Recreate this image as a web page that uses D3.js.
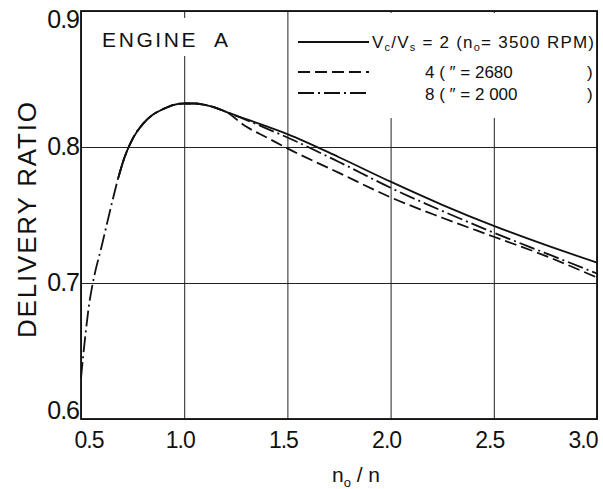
<!DOCTYPE html>
<html>
<head>
  <meta charset="UTF-8">
  <title>Engine A delivery ratio</title>
  <style>
  body { margin:0; background:#fff; }
  svg text { font-family:"Liberation Sans", Arial, sans-serif; fill:#111; }
  </style>
</head>
<body>
  <div id="chart"></div>
  <script src="https://d3js.org/d3.v7.min.js" charset="utf-8"></script>
  <script type="text/javascript">
    // values: x = n_o/n, y = delivery ratio
    var risingX = [0.5, 0.52, 0.54, 0.56, 0.6, 0.65, 0.68, 0.71, 0.75, 0.8, 0.85, 0.9, 0.95, 1.0, 1.05, 1.1, 1.15, 1.2];
    var risingY = [0.630, 0.660, 0.685, 0.702, 0.727, 0.759, 0.777, 0.792, 0.806, 0.817, 0.824, 0.828, 0.831, 0.832, 0.832, 0.831, 0.829, 0.826];

    var tailX   = [1.3, 1.4, 1.5, 1.75, 2.0, 2.25, 2.5, 2.75, 3.0];
    var solidY  = [0.8205, 0.8152, 0.8095, 0.7925, 0.7745, 0.7575, 0.742, 0.728, 0.715];
    var dashY   = [0.815, 0.807, 0.799, 0.781, 0.763, 0.748, 0.734, 0.720, 0.704];
    var dotY    = [0.820, 0.8135, 0.807, 0.789, 0.770, 0.753, 0.737, 0.722, 0.707];

    var xTicks = [0.5, 1.0, 1.5, 2.0, 2.5, 3.0];
    var yTicks = [0.6, 0.7, 0.8, 0.9];

    var W = 603, H = 489;
    var margin = {top: 11, right: 6, bottom: 70, left: 81};

    var svg = d3.select("#chart").append("svg")
      .attr("width", W)
      .attr("height", H);

    var x = d3.scaleLinear().domain([0.5, 3.0]).range([margin.left, W - margin.right]);
    var y = d3.scaleLinear().domain([0.6, 0.9]).range([H - margin.bottom, margin.top]);

    function pts(xs, ys) {
      return xs.map(function(v, i) { return [v, ys[i]]; });
    }

    // solid and dashed curves only start near the top of the rise; the dash-dot one runs from 0.5
    var common = pts(risingX, risingY);
    var solidData = common.filter(function(d) { return d[0] >= 0.68; }).concat(pts(tailX, solidY));
    var dashData  = common.filter(function(d) { return d[0] >= 0.68; }).concat(pts(tailX, dashY));
    var dotData   = common.concat(pts(tailX, dotY));

    var line = d3.line()
      .x(function(d) { return x(d[0]); })
      .y(function(d) { return y(d[1]); })
      .curve(d3.curveMonotoneX);

    // grid
    svg.append("g")
      .attr("transform", "translate(0," + (H - margin.bottom) + ")")
      .call(d3.axisBottom(x).tickValues(xTicks).tickSize(-(H - margin.top - margin.bottom)).tickFormat(""))
      .call(function(g) {
        g.select(".domain").remove();
        g.selectAll("line").attr("stroke", "#222").attr("stroke-width", 1);
      });

    svg.append("g")
      .attr("transform", "translate(" + margin.left + ",0)")
      .call(d3.axisLeft(y).tickValues(yTicks).tickSize(-(W - margin.left - margin.right)).tickFormat(""))
      .call(function(g) {
        g.select(".domain").remove();
        g.selectAll("line").attr("stroke", "#222").attr("stroke-width", 1.2);
      });

    // curves
    svg.append("path")
      .datum(dotData)
      .attr("fill", "none")
      .attr("stroke", "#111")
      .attr("stroke-width", 1.8)
      .attr("stroke-dasharray", "16,4,2,4")
      .attr("d", line);

    svg.append("path")
      .datum(dashData)
      .attr("fill", "none")
      .attr("stroke", "#111")
      .attr("stroke-width", 1.8)
      .attr("stroke-dasharray", "12,5")
      .attr("d", line);

    svg.append("path")
      .datum(solidData)
      .attr("fill", "none")
      .attr("stroke", "#111")
      .attr("stroke-width", 1.8)
      .attr("d", line);

    // white patches behind the labels hide the grid there
    svg.append("rect")
      .attr("x", 96).attr("y", 18).attr("width", 140).attr("height", 38)
      .attr("fill", "#fff");
    svg.append("rect")
      .attr("x", 292).attr("y", 13).attr("width", 303).attr("height", 105)
      .attr("fill", "#fff");

    // frame
    svg.append("rect")
      .attr("x", margin.left).attr("y", margin.top)
      .attr("width", W - margin.left - margin.right)
      .attr("height", H - margin.top - margin.bottom)
      .attr("fill", "none")
      .attr("stroke", "#111")
      .attr("stroke-width", 1.8);

    // tick labels
    svg.append("g").selectAll("text")
      .data(xTicks)
      .join("text")
      .attr("x", function(d) { return x(d) + (d === 0.5 ? 8 : d === 3.0 ? -14 : -4); })
      .attr("y", 448)
      .attr("text-anchor", "middle")
      .attr("font-size", 23)
      .attr("letter-spacing", -1)
      .text(function(d) { return d.toFixed(1); });

    svg.append("g").selectAll("text")
      .data(yTicks)
      .join("text")
      .attr("x", 79)
      .attr("y", function(d) { return y(d) + (d === 0.9 ? 17 : d === 0.6 ? 0 : 8); })
      .attr("text-anchor", "end")
      .attr("font-size", 25)
      .attr("letter-spacing", -1)
      .text(function(d) { return d.toFixed(1); });

    // axis titles
    var xt = svg.append("text")
      .attr("x", 356).attr("y", 482)
      .attr("text-anchor", "middle")
      .attr("font-size", 21);
    xt.append("tspan").text("n");
    xt.append("tspan").attr("dy", 5).attr("font-size", 13).text("o");
    xt.append("tspan").attr("dy", -5).text(" / n");

    svg.append("text")
      .attr("transform", "translate(36,220) rotate(-90)")
      .attr("text-anchor", "middle")
      .attr("font-size", 26)
      .attr("textLength", 236)
      .text("DELIVERY RATIO");

    svg.append("text")
      .attr("x", 102).attr("y", 47)
      .attr("font-size", 21)
      .attr("textLength", 126)
      .attr("xml:space", "preserve")
      .text("ENGINE  A");

    // legend
    var legendStyles = [null, "12,5", "16,4,2,4"];
    var legendY = [42, 72, 93];
    legendStyles.forEach(function(dash, i) {
      var l = svg.append("line")
        .attr("x1", 298).attr("x2", 369)
        .attr("y1", legendY[i]).attr("y2", legendY[i])
        .attr("stroke", "#111")
        .attr("stroke-width", 1.8);
      if (dash) l.attr("stroke-dasharray", dash);
    });

    var t1 = svg.append("text").attr("x", 372).attr("y", 48).attr("font-size", 17)
      .attr("textLength", 222);
    t1.append("tspan").text("V");
    t1.append("tspan").attr("dy", 3).attr("font-size", 11).text("c");
    t1.append("tspan").attr("dy", -3).text("/V");
    t1.append("tspan").attr("dy", 3).attr("font-size", 11).text("s");
    t1.append("tspan").attr("dy", -3).text(" = 2 (n");
    t1.append("tspan").attr("dy", 3).attr("font-size", 11).text("o");
    t1.append("tspan").attr("dy", -3).text("= 3500 RPM)");

    svg.append("text").attr("x", 425).attr("y", 78).attr("font-size", 17)
      .attr("xml:space", "preserve").text("4 ( \u2033 = 2680");
    svg.append("text").attr("x", 425).attr("y", 100).attr("font-size", 17)
      .attr("xml:space", "preserve").text("8 ( \u2033 = 2 000");
    svg.append("text").attr("x", 587).attr("y", 78).attr("font-size", 17).text(")");
    svg.append("text").attr("x", 587).attr("y", 100).attr("font-size", 17).text(")");
  </script>
</body>
</html>
